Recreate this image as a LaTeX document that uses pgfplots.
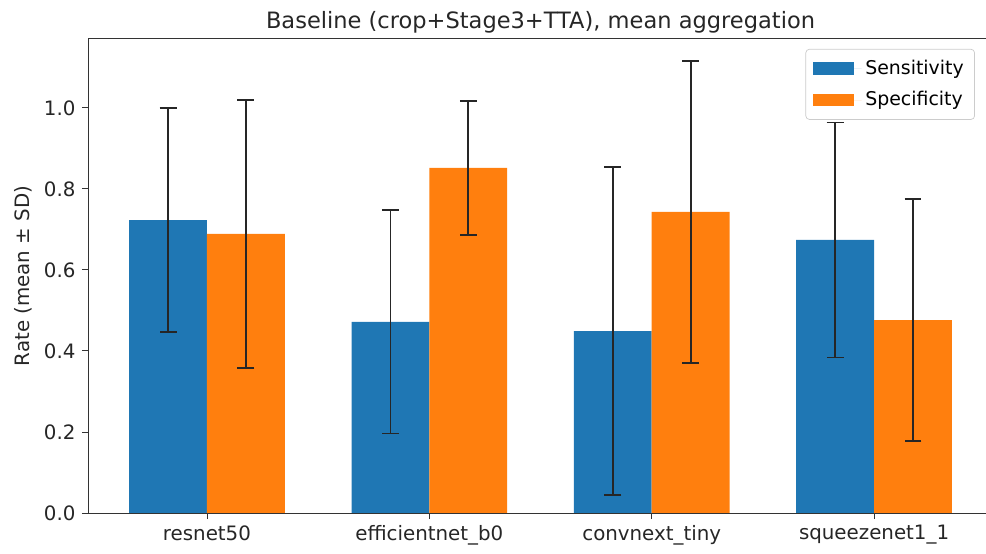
\documentclass[border=0pt]{standalone}
\usepackage{pgfplots}
\pgfplotsset{compat=1.18}
\usepackage{fontspec}
\setmainfont{DejaVu Sans}
\definecolor{tabblue}{HTML}{1F77B4}
\definecolor{taborange}{HTML}{FF7F0E}
\pgfplotstableread{
x  sens  senssd  spec  specsd
0  0.723 0.277   0.689 0.331
1  0.472 0.276   0.852 0.165
2  0.449 0.405   0.743 0.373
3  0.674 0.290   0.476 0.299
}\datatable
\begin{document}
\begin{tikzpicture}
\useasboundingbox (0pt,0pt) rectangle (547.23pt,307.47pt);
\begin{axis}[
  at={(48.84pt,22.755pt)}, anchor=south west,
  scale only axis,
  width=502.3pt, height=263.1pt,
  ybar,
  bar width=0.35,
  xmin=-0.535, xmax=3.535,
  ymin=0, ymax=1.17,
  xtick={0,1,2,3},
  xticklabels={resnet50,efficientnet\_b0,convnext\_tiny,squeezenet1\_1},
  ytick={0,0.2,0.4,0.6,0.8,1.0},
  yticklabel style={/pgf/number format/.cd,fixed,fixed zerofill,precision=1},
  /pgf/number format/assume math mode=true,
  tick label style={font=\fontsize{11}{13}\selectfont, color=black!85},
  tick align=outside,
  tick pos=left,
  major tick length=3.4pt,
  tick style={black!80, line width=0.5pt},
  axis line style={black!80, line width=0.5pt},
  ylabel={Rate (mean ± SD)},
  ylabel style={font=\fontsize{11}{13}\selectfont, color=black!85},
  title={Baseline (crop+Stage3+TTA), mean aggregation},
  title style={font=\fontsize{12.5}{15}\selectfont, color=black!85, yshift=-6.5pt},
  legend style={at={(rel axis cs:0.980,0.979)}, anchor=north east,
    font=\fontsize{10.5}{12.5}\selectfont, draw=black!20, rounded corners=2pt,
    fill=white, fill opacity=0.8, text opacity=1,
    row sep=4pt, inner xsep=4pt, inner ysep=4pt},
  legend cell align=left,
  legend image code/.code={%
    \fill[#1, draw=none, sharp corners, fill opacity=1] (0pt,-3.4pt) rectangle (22.8pt,3.4pt);
    \path (0pt,0pt) -- (27pt,0pt);},
  error bars/error bar style={black!85, line width=1pt},
  error bars/error mark options={rotate=90, mark size=4.7pt, line width=1pt, black!85},
]
\addplot[fill=tabblue, draw=none, bar shift=-0.175,
  error bars/.cd, y dir=both, y explicit]
  table[x=x, y=sens, y error=senssd] {\datatable};
\addlegendentry{Sensitivity}
\addplot[fill=taborange, draw=none, bar shift=0.175,
  error bars/.cd, y dir=both, y explicit]
  table[x=x, y=spec, y error=specsd] {\datatable};
\addlegendentry{Specificity}
\end{axis}
\end{tikzpicture}
\end{document}
